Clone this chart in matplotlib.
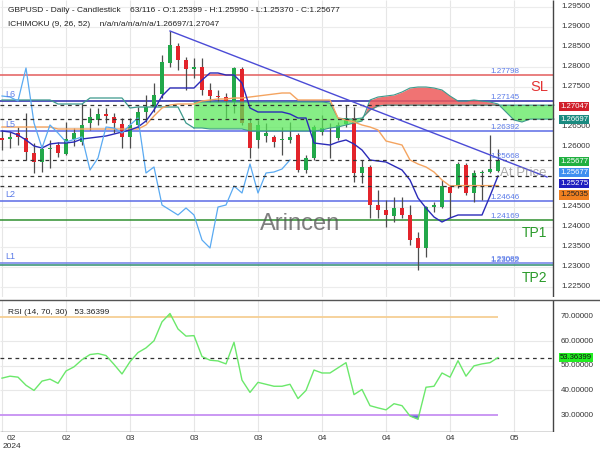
import numpy as np
import matplotlib
matplotlib.use("Agg")
import matplotlib.pyplot as plt
from matplotlib.lines import Line2D

plt.rcParams['font.family'] = ['Liberation Sans', 'DejaVu Sans']

# ---- daily GBPUSD candles, 63 bars shown (oldest first)
opens = [1.26225, 1.26200, 1.26350, 1.26225, 1.25850, 1.25625, 1.25950, 1.26050, 1.25825, 1.26200,
         1.26125, 1.26600, 1.26675, 1.26825, 1.26750, 1.26575, 1.26250, 1.26550, 1.26875, 1.27000,
         1.27325, 1.28100, 1.28525, 1.28175, 1.27950, 1.28000, 1.27425, 1.27275, 1.27250, 1.27125,
         1.27950, 1.26600, 1.26175, 1.26275, 1.26250, 1.26163, 1.26175, 1.26300, 1.25425, 1.25725,
         1.26375, 1.26338, 1.26225, 1.26575, 1.26725, 1.25350, 1.25500, 1.24550, 1.24425, 1.24275,
         1.24475, 1.24300, 1.23725, 1.23475, 1.24500, 1.24500, 1.25000, 1.25050, 1.25550, 1.24850,
         1.25350, 1.25375, 1.25399]
highs = [1.26425, 1.26375, 1.26500, 1.26850, 1.26100, 1.26050, 1.26175, 1.26125, 1.26625, 1.26475,
         1.27100, 1.26975, 1.26975, 1.26975, 1.26850, 1.26725, 1.26725, 1.27000, 1.27300, 1.27600,
         1.28300, 1.28900, 1.28600, 1.28250, 1.28225, 1.28225, 1.27600, 1.27425, 1.27350, 1.28000,
         1.28000, 1.26725, 1.26675, 1.26600, 1.26300, 1.26500, 1.26625, 1.26350, 1.25800, 1.26550,
         1.26800, 1.26600, 1.26625, 1.27050, 1.27000, 1.25675, 1.25550, 1.24925, 1.24675, 1.24750,
         1.24750, 1.24550, 1.23875, 1.24525, 1.24625, 1.25175, 1.25050, 1.25625, 1.25600, 1.25425,
         1.25425, 1.26300, 1.25950]
lows = [1.25925, 1.25975, 1.26050, 1.25675, 1.25350, 1.25375, 1.25475, 1.25750, 1.25800, 1.26025,
        1.26050, 1.26425, 1.26550, 1.26600, 1.26350, 1.25975, 1.25975, 1.26475, 1.26625, 1.26875,
        1.27225, 1.28000, 1.27925, 1.27425, 1.27725, 1.27300, 1.27125, 1.27125, 1.26725, 1.26850,
        1.26550, 1.25725, 1.25975, 1.26125, 1.26000, 1.25800, 1.26100, 1.25375, 1.25350, 1.25675,
        1.26300, 1.25725, 1.26175, 1.26500, 1.25125, 1.25100, 1.24225, 1.24225, 1.24000, 1.24125,
        1.24225, 1.23550, 1.22925, 1.23250, 1.24375, 1.24475, 1.24225, 1.24975, 1.24800, 1.24625,
        1.24675, 1.25350, 1.25370]
closes = [1.26175, 1.26250, 1.26250, 1.25875, 1.25625, 1.25950, 1.25975, 1.25850, 1.26200, 1.26350,
          1.26550, 1.26750, 1.26825, 1.26775, 1.26600, 1.26250, 1.26550, 1.26875, 1.27000, 1.27300,
          1.28125, 1.28550, 1.28175, 1.27950, 1.28000, 1.27425, 1.27275, 1.27250, 1.27150, 1.27975,
          1.26600, 1.25975, 1.26550, 1.26350, 1.26125, 1.26188, 1.26250, 1.25425, 1.25725, 1.26500,
          1.26475, 1.26350, 1.26550, 1.26725, 1.25350, 1.25500, 1.24550, 1.24425, 1.24300, 1.24475,
          1.24300, 1.23675, 1.23475, 1.24500, 1.24550, 1.25025, 1.24850, 1.25575, 1.24850, 1.25350,
          1.25375, 1.25450, 1.25677]

# ---- ichimoku lines
tenkan = [1.26400, 1.26375, 1.26300, 1.26175, 1.26025, 1.25975, 1.26075, 1.26100, 1.26100, 1.26125,
          1.26200, 1.26225, 1.26250, 1.26275, 1.26325, 1.26375, 1.26425, 1.26500, 1.26650, 1.26925,
          1.27275, 1.27475, 1.27475, 1.27475, 1.27475, 1.27675, 1.27850, 1.27850, 1.27800, 1.27800,
          1.27600, 1.26975, 1.26875, 1.26875, 1.26875, 1.26875, 1.26825, 1.26725, 1.26725, 1.26100,
          1.26075, 1.26050, 1.26125, 1.26175, 1.26075, 1.25925, 1.25675, 1.25650, 1.25625, 1.25525,
          1.25425, 1.25175, 1.24725, 1.24475, 1.24250, 1.24125, 1.24225, 1.24300, 1.24300, 1.24300,
          1.24300, 1.24775, 1.25275]
kijun = [1.26500, 1.26500, 1.26500, 1.26500, 1.26500, 1.26500, 1.26500, 1.26450, 1.26450, 1.26450,
         1.26450, 1.26450, 1.26450, 1.26450, 1.26450, 1.26450, 1.26450, 1.26450, 1.26550, 1.26775,
         1.26975, 1.27050, 1.27075, 1.27075, 1.27075, 1.27150, 1.27175, 1.27200, 1.27200, 1.27225,
         1.27225, 1.27250, 1.27275, 1.27300, 1.27325, 1.27350, 1.27350, 1.27175, 1.27175, 1.27175,
         1.27175, 1.27175, 1.26725, 1.26675, 1.26625, 1.26550, 1.26500, 1.26425, 1.26150, 1.26100,
         1.26050, 1.25675, 1.25575, 1.25500, 1.25375, 1.25175, 1.25025, 1.25035, 1.25035, 1.25035,
         1.25035, 1.25035, 1.25035]
# lagging span, drawn from the first bar
chikou = [1.27275, 1.27250, 1.27150, 1.27975, 1.26600, 1.25975, 1.26550, 1.26350, 1.26125, 1.26188,
          1.26250, 1.25425, 1.25725, 1.26500, 1.26475, 1.26350, 1.26550, 1.26725, 1.25350, 1.25500,
          1.24550, 1.24425, 1.24300, 1.24475, 1.24300, 1.23675, 1.23475, 1.24500, 1.24550, 1.25025,
          1.24850, 1.25575, 1.24850, 1.25350, 1.25375, 1.25450, 1.25677]
# cloud edge before the cloud is filled (bars 0..24)
span_early = [1.27175, 1.27175, 1.27175, 1.27175, 1.27175, 1.27175, 1.27175, 1.27075, 1.27075, 1.27075,
              1.27075, 1.27225, 1.27225, 1.27225, 1.27225, 1.27225, 1.26975, 1.27000, 1.27000, 1.27000,
              1.27000, 1.27000, 1.27000, 1.26600, 1.26475]
# cloud spans, bars 24..69
span_a = [1.27125] * 17 + [1.27100, 1.26725, 1.26700, 1.26700, 1.26725, 1.26925, 1.27025] + [1.27047] * 22
span_b = [1.26475, 1.26475, 1.26450, 1.26450, 1.26450, 1.26450, 1.26450,
          1.26400, 1.26400, 1.26400, 1.26400, 1.26400, 1.26400, 1.26400, 1.26400, 1.26400,
          1.26425, 1.26475, 1.26500, 1.26550, 1.26600, 1.26650, 1.27175, 1.27250, 1.27275,
          1.27300, 1.27375, 1.27475, 1.27500, 1.27500, 1.27475, 1.27425, 1.27275, 1.27150,
          1.27150, 1.27175, 1.27150, 1.27125, 1.27075, 1.26875, 1.26675, 1.26625,
          1.26697, 1.26697, 1.26697, 1.26697]

rsi = [45.0, 45.8, 45.4, 42.1, 40.0, 43.8, 44.6, 42.9, 47.9, 49.6,
       52.5, 54.6, 55.0, 54.2, 50.6, 46.7, 51.7, 55.4, 57.3, 60.2,
       67.9, 71.3, 65.0, 62.1, 62.3, 53.8, 52.3, 52.0, 50.8, 59.6,
       44.2, 39.2, 43.3, 42.5, 41.7, 41.7, 42.5, 36.7, 40.0, 48.3,
       47.1, 47.1, 49.2, 51.3, 38.3, 40.4, 33.8, 32.9, 32.1, 34.6,
       33.8, 29.6, 28.3, 41.3, 41.7, 47.1, 45.4, 52.1, 45.8, 50.0,
       50.8, 51.3, 53.36399]

# ---- horizontal levels
level_vals = [1.27798, 1.27145, 1.26392, 1.24646, 1.24169, 1.23089, 1.23062]
level_cols = ['#e35d5d', '#2626aa', '#5b6be6', '#5b6be6', '#2f8f2f', '#7080e8', '#2f8f70']
level_text = ['1.27798', '1.27145', '1.26392', '1.25668', '1.24646', '1.24169', '1.23089', '1.23062']
level_text_vals = [1.27798, 1.27145, 1.26392, 1.25668, 1.24646, 1.24169, 1.23089, 1.23062]
dashed_vals = [1.27047, 1.26697, 1.25677, 1.25275, 1.25035]
price_ticks = [1.225, 1.230, 1.235, 1.240, 1.245, 1.250, 1.255, 1.260, 1.265,
               1.270, 1.275, 1.280, 1.285, 1.290, 1.295]
# ticks whose labels sit under the value tags on the right
hidden_ticks = [1.250, 1.255, 1.270]
rsi_ticks = [30, 40, 50, 60, 70]
date_ticks = [0, 8, 16, 24, 32, 40, 48, 56, 64]
date_labels = ['02', '02', '03', '03', '03', '04', '04', '04', '05']


def bx(px):
    # pixel column -> bar position
    return (px - 2) / 8.0


def py(px):
    # pixel row in the price panel -> price
    return 1.295 - (px - 7) / 4000.0


EDGE = bx(553)
GREEN = '#22a84a'
RED = '#e3242b'

fig = plt.figure(figsize=(6, 4.5), dpi=100)
ax = fig.add_axes([0, 1 - 297 / 450, 1, 297 / 450])
ra = fig.add_axes([0, 1 - 432 / 450, 1, 132 / 450])
for a in (ax, ra):
    a.set_xlim(-0.25, 74.75)
    a.axis('off')
ax.set_ylim(1.2225, 1.29675)
ra.set_ylim(23.09, 76.79)

# grid
for t in date_ticks:
    ax.vlines(t, 1.2225, 1.29675, color='#e6e6e6', lw=0.8, zorder=0)
    ra.vlines(t, 23.09, 76.79, color='#e6e6e6', lw=0.8, zorder=0)
ax.hlines(price_ticks, -0.25, EDGE, color='#ececec', lw=0.8, zorder=0)

# levels
ax.hlines(level_vals, -0.25, EDGE, colors=level_cols, lw=1.1, zorder=1)

# candles
x = np.arange(len(closes))
o = np.array(opens)
c = np.array(closes)
ax.vlines(x, lows, highs, color='#4d4d4d', lw=0.9, zorder=2)
ax.bar(x, np.maximum(np.abs(c - o), 0.0001), bottom=np.minimum(o, c), width=0.62,
       color=np.where(c >= o, GREEN, RED), zorder=3)

# cloud
cx = np.arange(24, 24 + len(span_a))
sa = np.array(span_a)
sb = np.array(span_b)
ax.fill_between(cx, sa, sb, where=sa >= sb, interpolate=True, color='#58e858', alpha=0.72, lw=0, zorder=4)
ax.fill_between(cx, sa, sb, where=sa < sb, interpolate=True, color='#ee5a5a', alpha=0.85, lw=0, zorder=4)
ax.plot(cx, sa, color='#3d9a8c', lw=0.8, zorder=4)
ax.plot(cx, sb, color='#3d9a8c', lw=0.8, zorder=4)
ax.plot(np.arange(len(span_early)), span_early, color='#3d9a8c', lw=0.9, zorder=4)

# ichimoku lines
ax.plot(x, kijun, color='#f4a460', lw=1, zorder=5)
ax.plot(x, tenkan, color='#2b2bb8', lw=1, zorder=5)
ax.plot(np.arange(len(chikou)), chikou, color='#5aaaf2', lw=0.9, zorder=5)

# dashed value lines
ax.hlines(dashed_vals, -0.25, EDGE, color='#333333', lw=0.9, linestyles=(0, (3, 3)), zorder=6)

# trend line
ax.plot([21, bx(547)], [1.2890, 1.2525], color='#4b4bd6', lw=1, zorder=6)

# level labels
for t, v in zip(level_text, level_text_vals):
    ax.text(bx(490), v + 0.001, t, fontsize=5.8, color='#5b7be8', va='center', ha='left', zorder=7)
for t, v in zip(['L6', 'L5', 'L2', 'L1'], [1.27145, 1.26392, 1.24646, 1.23089]):
    ax.text(bx(5), v + 0.00175, t, fontsize=6.5, color='#5b7be8', va='center', ha='left', zorder=7)
ax.text(bx(548), py(87), 'SL', fontsize=10.5, color='#e33333', ha='right', va='center', zorder=7)
ax.text(bx(547), py(233), 'TP1', fontsize=10, color='#2a9a2a', ha='right', va='center', zorder=7)
ax.text(bx(547), py(278), 'TP2', fontsize=10, color='#2a9a2a', ha='right', va='center', zorder=7)
ax.text(bx(260), py(224), 'Arincen', fontsize=17, color='#555555', alpha=0.75, ha='left', va='center', zorder=7)
ax.text(bx(500), py(173), 'At Price', fontsize=9.5, color='#888888', alpha=0.7, ha='left', va='center',
        zorder=7, clip_on=True)

# right price axis
ax.vlines(EDGE, 1.2225, 1.29675, color='#444444', lw=1, zorder=8)
for p in price_ticks:
    if p in hidden_ticks:
        continue
    ax.text(bx(561), p, f'{p:.5f}', fontsize=5.8, color='#333333', va='center', ha='left', clip_on=True, zorder=8)
tags = [('1.27047', 106.5, '#d0202a', 'white'), ('1.26697', 119.5, '#1a8a80', 'white'),
        ('1.25677', 161.5, '#20b040', 'white'), ('1.25677', 172.5, '#3f8ff0', 'white'),
        ('1.25275', 183.5, '#2020c0', 'white'), ('1.25035', 195, '#f08020', '#222222')]
for t, row, fc, tc in tags:
    ax.text(bx(560), py(row), t, fontsize=5.6, color=tc, va='center', ha='left', zorder=12,
            bbox=dict(boxstyle='square,pad=0.15', fc=fc, ec='none'))

# headers
fig.text(8 / 600, 1 - 10 / 450,
         'GBPUSD - Daily - Candlestick    63/116 - O:1.25399 - H:1.25950 - L:1.25370 - C:1.25677',
         fontsize=6, color='#222222', va='center')
fig.text(8 / 600, 1 - 25 / 450, 'ICHIMOKU (9, 26, 52)    n/a/n/a/n/a/n/a/1.26697/1.27047',
         fontsize=6, color='#222222', va='center')

# ---- RSI panel
r = np.array(rsi)
ra.hlines([40, 50, 60], -0.25, EDGE, color='#e8e8e8', lw=0.8, zorder=0)
ra.hlines(70, -0.25, 62, color='#f6cf94', lw=1.3, zorder=1)
ra.hlines(30, -0.25, 62, color='#c690f2', lw=1.3, zorder=1)
ra.fill_between(x, r, 70, where=r > 70, interpolate=True, color='#b8e060', lw=0, zorder=2)
ra.fill_between(x, r, 30, where=r < 30, interpolate=True, color='#6a6ad8', lw=0, zorder=2)
ra.hlines(53.36399, -0.25, EDGE, color='#333333', lw=0.9, linestyles=(0, (3, 3)), zorder=2)
ra.plot(x, r, color='#6be86b', lw=1, zorder=3)
ra.vlines(EDGE, 23.09, 76.79, color='#444444', lw=1, zorder=8)
ra.hlines(23.2, -0.25, EDGE, color='#444444', lw=1, zorder=8)
for v in rsi_ticks:
    ra.text(bx(561), v, f'{v:.5f}', fontsize=5.8, color='#333333', va='center', ha='left', clip_on=True)
ra.text(bx(560), 53.36399, '53.36399', fontsize=5.6, color='#111111', va='center', ha='left', zorder=12,
        bbox=dict(boxstyle='square,pad=0.15', fc='#22ee22', ec='none'))
ra.text(bx(8), 71.9, 'RSI (14, 70, 30)   53.36399', fontsize=6, color='#222222',
        va='center', ha='left')

# separator between panels
fig.add_artist(Line2D([0, 1], [1 - 300 / 450] * 2, color='#555555', lw=1))

# date labels
for t, lab in zip(date_ticks, date_labels):
    if t == 0:
        fig.text(7 / 600, 1 - 438 / 450, lab, fontsize=6, color='#333333', ha='left', va='center')
    else:
        fig.text((2 + 8 * t) / 600, 1 - 438 / 450, lab, fontsize=6, color='#333333', ha='center', va='center')
fig.text(3 / 600, 1 - 446 / 450, '2024', fontsize=6, color='#333333', ha='left', va='center')

fig.savefig('out.png', dpi=100)
